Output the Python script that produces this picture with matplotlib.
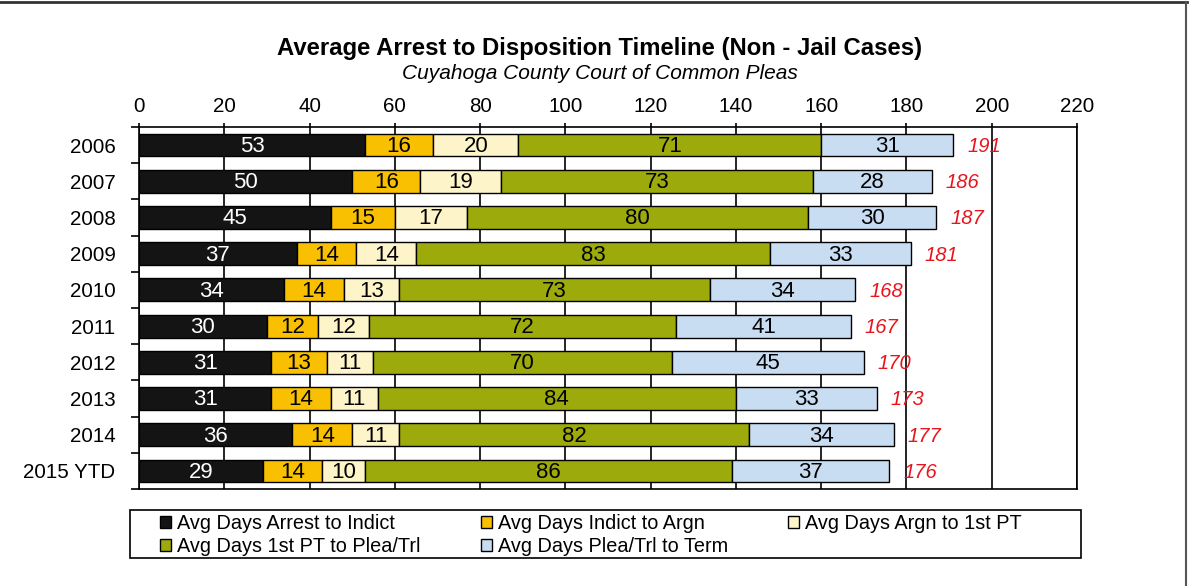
import matplotlib
matplotlib.use("Agg")
import matplotlib.pyplot as plt
from matplotlib.patches import Rectangle
from matplotlib.lines import Line2D
import numpy as np

plt.rcParams["font.family"] = ["Liberation Sans", "DejaVu Sans"]

years = ["2006", "2007", "2008", "2009", "2010", "2011", "2012", "2013", "2014", "2015 YTD"]
arrest_to_indict = [53, 50, 45, 37, 34, 30, 31, 31, 36, 29]
indict_to_argn = [16, 16, 15, 14, 14, 12, 13, 14, 14, 14]
argn_to_1st_pt = [20, 19, 17, 14, 13, 12, 11, 11, 11, 10]
pt_to_plea_trl = [71, 73, 80, 83, 73, 72, 70, 84, 82, 86]
plea_trl_to_term = [31, 28, 30, 33, 34, 41, 45, 33, 34, 37]
totals = [191, 186, 187, 181, 168, 167, 170, 173, 177, 176]

series_names = ["Avg Days Arrest to Indict", "Avg Days Indict to Argn",
                "Avg Days Argn to 1st PT", "Avg Days 1st PT to Plea/Trl",
                "Avg Days Plea/Trl to Term"]
series_values = [arrest_to_indict, indict_to_argn, argn_to_1st_pt,
                 pt_to_plea_trl, plea_trl_to_term]
colors = ["#141414", "#F8C000", "#FDF5C9", "#9CAA0C", "#C9DDF2"]
label_colors = ["white", "black", "black", "black", "black"]

TICK_SIZE = 14.8
BAR_LABEL_SIZE = 16

fig = plt.figure(figsize=(11.91, 5.86), dpi=100)
ax = fig.add_axes([0.1167, 0.1655, 0.7876, 0.6178])

y = np.arange(len(years))
left = np.zeros(len(years))
handles = []
for name, vals, col, lcol in zip(series_names, series_values, colors, label_colors):
    vals = np.array(vals)
    bars = ax.barh(y, vals, left=left, height=0.63, color=col,
                   edgecolor="black", linewidth=1.0, label=name, zorder=3)
    handles.append(bars)
    for yi, l, v in zip(y, left, vals):
        ax.text(l + v / 2, yi + 0.04, str(v), ha="center", va="center",
                fontsize=BAR_LABEL_SIZE, color=lcol, zorder=4)
    left = left + vals

for yi, tot in zip(y, totals):
    ax.annotate(str(tot), (tot, yi + 0.04), xytext=(10, 0), textcoords="offset points",
                ha="left", va="center", fontsize=14.5, color="#E8141C",
                style="italic", zorder=4)

ax.set_xlim(0, 220)
ax.set_ylim(len(years) - 0.5, -0.5)
ax.set_xticks(np.arange(0, 221, 20))
ax.xaxis.tick_top()
ax.tick_params(axis="x", direction="out", length=3, width=1.2, pad=5,
               labelsize=TICK_SIZE)
ax.grid(axis="x", color="black", linewidth=1.2, zorder=0)

ax.set_yticks(y)
ax.set_yticklabels(years)
ax.set_yticks(np.arange(-0.5, len(years), 1.0), minor=True)
ax.tick_params(axis="y", which="major", length=0, pad=17, labelsize=TICK_SIZE)
ax.tick_params(axis="y", which="minor", direction="out", length=6, width=1.2)

for s in ax.spines.values():
    s.set_linewidth(1.2)

# legend, row-major order across 3 columns
order = [0, 3, 1, 4, 2]
leg = ax.legend([handles[i] for i in order], [series_names[i] for i in order],
                ncol=3, loc="center", mode="expand",
                bbox_to_anchor=(0.0224, -0.127, 0.919, 0.0),
                frameon=False, fontsize=14.3, handlelength=0.55,
                handleheight=0.6, handletextpad=0.3, labelspacing=0.22,
                borderpad=0, borderaxespad=0)
ax.add_patch(Rectangle((-0.0096, -0.1906), 1.0139, 0.1326, transform=ax.transAxes,
                       fill=False, edgecolor="black", linewidth=1.2, clip_on=False))

fig.text(0.5038, 0.918, "Average Arrest to Disposition Timeline (Non - Jail Cases)",
         ha="center", va="center", fontsize=17.2, fontweight="bold")
fig.text(0.5038, 0.874, "Cuyahoga County Court of Common Pleas",
         ha="center", va="center", fontsize=15, style="italic")

# scanned page frame
fig.add_artist(Line2D([0, 0.997], [0.997, 0.997], transform=fig.transFigure,
                      color="#333333", linewidth=2))
fig.add_artist(Line2D([0.996, 0.996], [0, 0.997], transform=fig.transFigure,
                      color="#555555", linewidth=1.5))

fig.savefig("out.png", dpi=100)
plt.close(fig)
